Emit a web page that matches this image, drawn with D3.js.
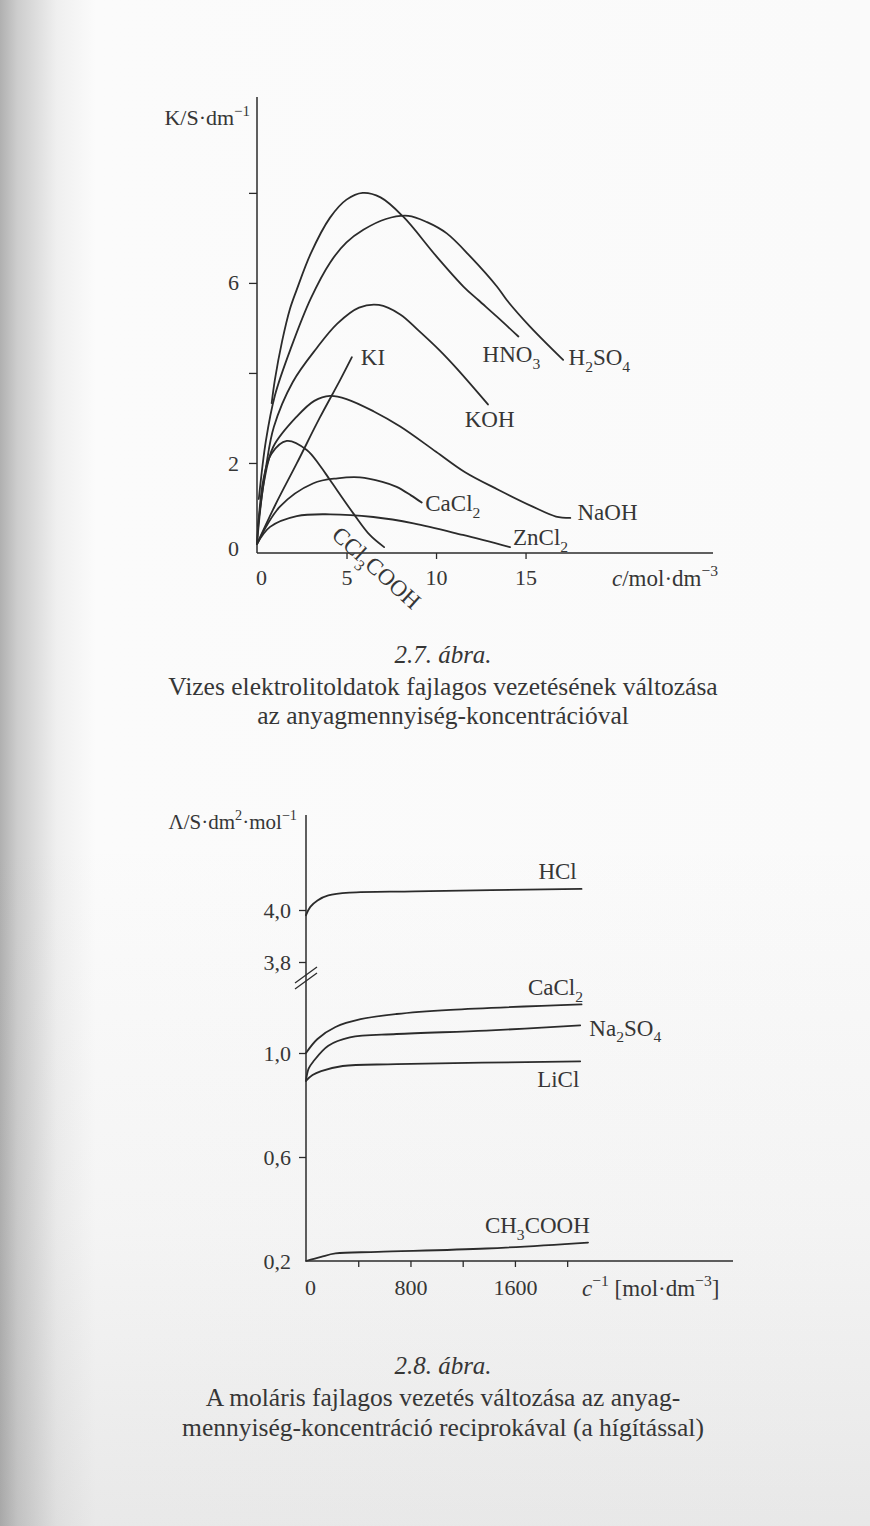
<!DOCTYPE html>
<html lang="hu">
<head>
<meta charset="utf-8">
<title>2.7. és 2.8. ábra</title>
<script src="https://cdn.jsdelivr.net/npm/d3@7"></script>
<style>
  body { margin: 0; background: #f7f7f7; }
  svg text { font-family: "Liberation Serif", "Times New Roman", serif; fill: #363636; }
</style>
</head>
<body>
<div id="page"></div>
<script>
// ---- 2.7. ábra: fajlagos vezetés K [S/dm] a koncentráció c [mol/dm3] függvényében
const hno3C  = [0.82, 1.0, 1.4, 1.84, 2.22, 3.0, 4.08, 5.0, 5.9, 6.9, 8.17, 10.0, 11.53, 12.36, 13.4, 14.6];
const hno3K  = [3.33, 3.85, 4.7, 5.42, 5.85, 6.65, 7.45, 7.85, 8.0, 7.9, 7.47, 6.6, 5.92, 5.62, 5.25, 4.81];
const h2so4C = [0.1, 0.5, 1.0, 1.94, 3.0, 4.08, 5.0, 5.94, 7.2, 8.45, 9.5, 10.6, 12.0, 13.4, 13.95, 15.25, 17.1];
const h2so4K = [1.2, 2.5, 3.5, 4.6, 5.65, 6.45, 6.9, 7.18, 7.42, 7.49, 7.35, 7.1, 6.55, 5.92, 5.62, 5.03, 4.29];
const kohC   = [0.05, 0.5, 0.94, 2.0, 3.33, 4.5, 5.7, 6.8, 8.0, 9.0, 10.2, 11.15, 12.9];
const kohK   = [0.6, 1.9, 2.8, 3.8, 4.55, 5.1, 5.45, 5.51, 5.3, 4.95, 4.5, 4.1, 3.3];
const kiC    = [0, 1.0, 2.22, 3.5, 4.64, 5.3];
const kiK    = [0.2, 1.05, 1.99, 3.0, 3.84, 4.35];
const naohC  = [0, 0.4, 0.91, 2.22, 3.2, 4.08, 5.0, 6.5, 8.0, 10.0, 11.6, 13.5, 15.4, 16.7, 17.5];
const naohK  = [0.2, 1.6, 2.36, 3.03, 3.38, 3.49, 3.42, 3.15, 2.81, 2.25, 1.8, 1.4, 1.03, 0.81, 0.78];
const ccl3C  = [0, 0.35, 0.8, 1.66, 2.78, 3.5, 4.08, 5.38, 6.3, 7.1];
const ccl3K  = [0.2, 1.62, 2.2, 2.49, 2.29, 1.95, 1.62, 0.88, 0.4, 0.13];
const cacl2C = [0, 1.28, 3.15, 4.5, 5.75, 7.0, 7.8, 8.6, 9.2];
const cacl2K = [0.2, 1.03, 1.55, 1.66, 1.68, 1.58, 1.47, 1.28, 1.12];
const zncl2C = [0, 0.73, 2.22, 4.08, 6.5, 8.74, 11.5, 14.13];
const zncl2K = [0.2, 0.58, 0.82, 0.86, 0.8, 0.66, 0.4, 0.13];
const kTicksX = [0, 5, 10, 15];
const kTicksY = [0, 2, 4, 6, 8];
const kLabelsY = [0, 2, 6];

// ---- 2.8. ábra: moláris fajlagos vezetés a hígítás (1/c) függvényében
const hclX    = [0, 33, 88, 171, 336, 831, 2110];
const hclY    = [3.98, 4.012, 4.037, 4.056, 4.067, 4.072, 4.081];
const cacl2bX = [0, 88, 226, 418, 693, 1106, 2110];
const cacl2bY = [1.0, 1.054, 1.10, 1.13, 1.15, 1.166, 1.187];
const na2so4X = [0, 20, 60, 171, 336, 693, 1381, 2100];
const na2so4Y = [0.893, 0.94, 0.97, 1.028, 1.06, 1.073, 1.086, 1.106];
const liclX   = [0, 50, 116, 281, 693, 2100];
const liclY   = [0.893, 0.915, 0.93, 0.95, 0.957, 0.968];
const ch3X    = [0, 116, 226, 550, 1381, 2160];
const ch3Y    = [0.2, 0.216, 0.229, 0.235, 0.248, 0.271];
const lTicksX = [0, 400, 800, 1200, 1600, 2000];
const lLabelsX = [0, 800, 1600];
const lTicksLow = [0.2, 0.6, 1.0];
const lTicksHigh = [3.8, 4.0];

const W = 870, H = 1526;
const ink = "#2b2b2b";
const serif = '"Liberation Serif", "Times New Roman", serif';

const svg = d3.select("#page").append("svg")
  .attr("width", W).attr("height", H)
  .attr("font-family", serif);

// paper: shadow of the binding on the left, greyer towards the bottom
const defs = svg.append("defs");
const gx = defs.append("linearGradient").attr("id", "edge");
[[0, "#b0b0b0"], [0.02, "#cdcdcd"], [0.065, "#efefef"], [0.11, "#fbfbfb"], [1, "#fafafa"]]
  .forEach(s => gx.append("stop").attr("offset", s[0]).attr("stop-color", s[1]));
const gy = defs.append("linearGradient").attr("id", "bottom")
  .attr("x1", 0).attr("y1", 0).attr("x2", 0).attr("y2", 1);
[[0, 0], [0.55, 0], [0.8, 0.05], [1, 0.14]]
  .forEach(s => gy.append("stop").attr("offset", s[0]).attr("stop-color", "#777").attr("stop-opacity", s[1]));
svg.append("rect").attr("width", W).attr("height", H).attr("fill", "url(#edge)");
svg.append("rect").attr("width", W).attr("height", H).attr("fill", "url(#bottom)");

// text with _{sub} ^{sup} *{italic}
function rich(sel, str, size) {
  const parts = str.split(/(_\{[^}]*\}|\^\{[^}]*\}|\*\{[^}]*\})/).filter(s => s.length);
  let shift = 0;
  parts.forEach(p => {
    let kind = "n", t = p;
    if (p.startsWith("_{")) { kind = "sub"; t = p.slice(2, -1); }
    else if (p.startsWith("^{")) { kind = "sup"; t = p.slice(2, -1); }
    else if (p.startsWith("*{")) { kind = "it"; t = p.slice(2, -1); }
    const target = kind == "sub" ? size * 0.3 : kind == "sup" ? -size * 0.42 : 0;
    const ts = sel.append("tspan").text(t).attr("dy", target - shift);
    shift = target;
    if (kind == "sub" || kind == "sup") ts.attr("font-size", size * 0.68);
    if (kind == "it") ts.attr("font-style", "italic");
  });
  return sel;
}

function label(x, y, str, size, anchor) {
  const t = svg.append("text").attr("x", x).attr("y", y)
    .attr("font-size", size).attr("text-anchor", anchor || "start");
  return rich(t, str, size);
}

function styleAxis(g) {
  g.attr("font-family", serif);
  g.selectAll("path.domain").remove();
  g.selectAll(".tick line").attr("stroke", ink).attr("stroke-width", 1.3);
  g.selectAll(".tick text").attr("fill", "#363636");
}

// ================= 2.7. ábra =================
const x1 = d3.scaleLinear().domain([0, 25.47]).range([257, 713]);
const y1 = d3.scaleLinear().domain([0, 10.13]).range([553, 97]);

svg.append("line").attr("x1", x1(0)).attr("x2", x1(0)).attr("y1", y1(0)).attr("y2", y1.range()[1])
  .attr("stroke", ink).attr("stroke-width", 1.5);
svg.append("line").attr("x1", x1(0)).attr("x2", x1.range()[1]).attr("y1", y1(0)).attr("y2", y1(0))
  .attr("stroke", ink).attr("stroke-width", 1.5);

const ax1 = svg.append("g").attr("transform", `translate(0,${y1(0)})`)
  .call(d3.axisBottom(x1).tickValues(kTicksX).tickSize(6).tickPadding(10).tickFormat(d3.format("d")))
  .attr("font-size", 22);
styleAxis(ax1);
ax1.selectAll(".tick").filter(d => d == 0).select("line").remove();
ax1.selectAll(".tick").filter(d => d == 0).select("text").attr("x", 4);

const ay1 = svg.append("g").attr("transform", `translate(${x1(0)},0)`)
  .call(d3.axisLeft(y1).tickValues(kTicksY).tickSize(8).tickPadding(10)
    .tickFormat(d => kLabelsY.includes(d) ? d : ""))
  .attr("font-size", 22);
styleAxis(ay1);
ay1.selectAll(".tick").filter(d => d == 0).select("line").remove();
ay1.selectAll(".tick").filter(d => d == 0).select("text").attr("dy", "0.1em");

label(250, 125, "K/S·dm^{−1}", 22, "end");
label(612, 586, "*{c}/mol·dm^{−3}", 23);

const series1 = [
  { c: hno3C, k: hno3K }, { c: h2so4C, k: h2so4K }, { c: kohC, k: kohK },
  { c: kiC, k: kiK }, { c: naohC, k: naohK }, { c: ccl3C, k: ccl3K },
  { c: cacl2C, k: cacl2K }, { c: zncl2C, k: zncl2K }
];
const line1 = d3.line().x(d => x1(d[0])).y(d => y1(d[1])).curve(d3.curveCatmullRom.alpha(0.5));
svg.append("g").selectAll("path").data(series1).join("path")
  .attr("d", s => line1(s.c.map((c, i) => [c, s.k[i]])))
  .attr("fill", "none").attr("stroke", ink).attr("stroke-width", 1.8)
  .attr("stroke-linecap", "round").attr("stroke-linejoin", "round");

label(x1(12.6), y1(4.25), "HNO_{3}", 23);
label(x1(17.4), y1(4.18), "H_{2}SO_{4}", 23);
label(x1(11.6), y1(2.81), "KOH", 23);
label(x1(5.8), y1(4.18), "KI", 23);
label(x1(9.4), y1(0.93), "CaCl_{2}", 23);
label(x1(17.9), y1(0.73), "NaOH", 23);
label(x1(14.3), y1(0.18), "ZnCl_{2}", 23);
label(x1(4.1), y1(0.36), "CCl_{3}COOH", 23).attr("transform", `rotate(42,${x1(4.1)},${y1(0.36)})`);

label(443, 663, "*{2.7. ábra.}", 25, "middle");
label(443, 695, "Vizes elektrolitoldatok fajlagos vezetésének változása", 25.5, "middle");
label(443, 724, "az anyagmennyiség-koncentrációval", 25.5, "middle");

// ================= 2.8. ábra =================
const x2 = d3.scaleLinear().domain([0, 3270]).range([306, 733]);
const y2low = d3.scaleLinear().domain([0.2, 1.0]).range([1261, 1053]);
const y2high = d3.scaleLinear().domain([3.8, 4.0]).range([962, 910]);
const breakY = 978;
const y2 = v => v > 2 ? y2high(v) : y2low(v);

svg.append("line").attr("x1", x2(0)).attr("x2", x2(0)).attr("y1", y2low(0.2)).attr("y2", 815)
  .attr("stroke", ink).attr("stroke-width", 1.5);
svg.append("line").attr("x1", x2(0)).attr("x2", x2.range()[1]).attr("y1", y2low(0.2)).attr("y2", y2low(0.2))
  .attr("stroke", ink).attr("stroke-width", 1.5);
// axis break
[-3, 3].forEach(o => {
  svg.append("line").attr("x1", x2(0) - 11).attr("y1", breakY + o + 8)
    .attr("x2", x2(0) + 11).attr("y2", breakY + o - 8)
    .attr("stroke", ink).attr("stroke-width", 1.3);
});

const ax2 = svg.append("g").attr("transform", `translate(0,${y2low(0.2)})`)
  .call(d3.axisBottom(x2).tickValues(lTicksX).tickSize(6).tickPadding(12)
    .tickFormat(d => lLabelsX.includes(d) ? d : ""))
  .attr("font-size", 22);
styleAxis(ax2);
ax2.selectAll(".tick").filter(d => d == 0).select("line").remove();
ax2.selectAll(".tick").filter(d => d == 0).select("text").attr("x", 4);

const comma = d => d3.format(".1f")(d).replace(".", ",");
[[y2low, lTicksLow], [y2high, lTicksHigh]].forEach(([sc, tv]) => {
  const g = svg.append("g").attr("transform", `translate(${x2(0)},0)`)
    .call(d3.axisLeft(sc).tickValues(tv).tickSize(7).tickPadding(8).tickFormat(comma))
    .attr("font-size", 22);
  styleAxis(g);
  g.selectAll(".tick").filter(d => d == 0.2).select("line").remove();
});

label(297, 829, "Λ/S·dm^{2}·mol^{−1}", 21, "end");
label(582, 1296, "*{c}^{−1} [mol·dm^{−3}]", 23);

const series2 = [
  { x: hclX, y: hclY }, { x: cacl2bX, y: cacl2bY }, { x: na2so4X, y: na2so4Y },
  { x: liclX, y: liclY }, { x: ch3X, y: ch3Y }
];
const line2 = d3.line().x(d => x2(d[0])).y(d => y2(d[1])).curve(d3.curveCatmullRom.alpha(0.5));
svg.append("g").selectAll("path").data(series2).join("path")
  .attr("d", s => line2(s.x.map((v, i) => [v, s.y[i]])))
  .attr("fill", "none").attr("stroke", ink).attr("stroke-width", 1.8)
  .attr("stroke-linecap", "round");

label(x2(1780), y2(4.119), "HCl", 23);
label(x2(1700), y2(1.222), "CaCl_{2}", 23);
label(x2(2170), y2(1.067), "Na_{2}SO_{4}", 23);
label(x2(1770), y2(0.870), "LiCl", 23);
label(x2(1370), y2(0.307), "CH_{3}COOH", 23);

label(443, 1374, "*{2.8. ábra.}", 25, "middle");
label(443, 1406, "A moláris fajlagos vezetés változása az anyag-", 25.5, "middle");
label(443, 1436, "mennyiség-koncentráció reciprokával (a hígítással)", 25.5, "middle");
</script>
</body>
</html>
